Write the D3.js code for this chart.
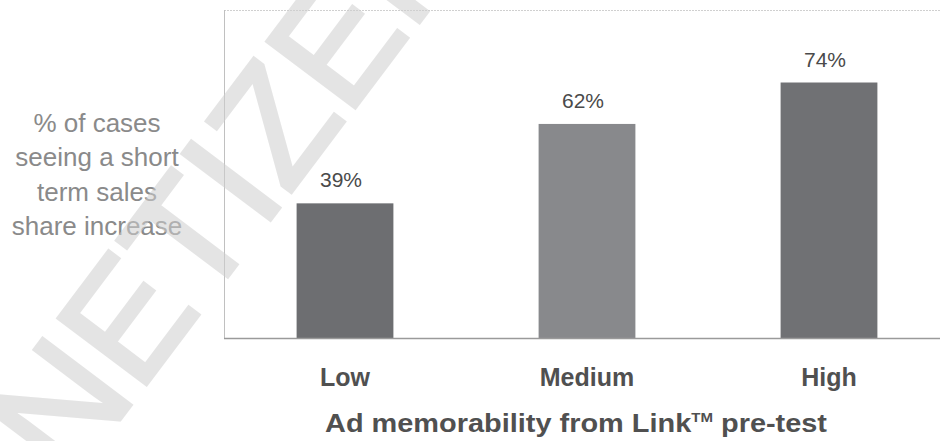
<!DOCTYPE html>
<html>
<head>
<meta charset="utf-8">
<script src="https://cdn.jsdelivr.net/npm/d3@7"></script>
<style>
  html, body { margin: 0; padding: 0; background: #fff; }
  svg { display: block; font-family: "Liberation Sans", Arial, sans-serif; }
</style>
</head>
<body>
<svg id="chart" width="940" height="441"></svg>
<script>
// Share of cases with a short-term sales share increase, by ad memorability
const categories = ["Low", "Medium", "High"];
const shareIncrease = [39, 62, 74];
const barColors = ["#6d6e71", "#88898c", "#707174"];
const valueLabels = ["39%", "62%", "74%"];
const yTitleLines = ["% of cases", "seeing a short", "term sales", "share increase"];
const xTitleParts = ["Ad memorability from Link", "TM", " pre-test"];

const svg = d3.select("#chart");
const frame = { left: 224, top: 10, bottom: 338, right: 950 };

const x = d3.scaleBand()
  .domain(categories)
  .range([frame.left, frame.right])
  .paddingInner(0.6)
  .paddingOuter(0.3);

const y = d3.scaleLinear()
  .domain([0, 95])
  .range([frame.bottom, frame.top]);

// plot frame
svg.append("line")
  .attr("x1", frame.left).attr("x2", 940)
  .attr("y1", frame.top + 0.5).attr("y2", frame.top + 0.5)
  .attr("stroke", "#d0d0d0").attr("stroke-width", 1)
  .attr("stroke-dasharray", "2,1");
svg.append("line")
  .attr("x1", frame.left + 0.5).attr("x2", frame.left + 0.5)
  .attr("y1", frame.top).attr("y2", frame.bottom)
  .attr("stroke", "#c0c0c0").attr("stroke-width", 1);

// bars
svg.append("g").selectAll("rect")
  .data(categories)
  .join("rect")
  .attr("x", d => x(d))
  .attr("width", x.bandwidth())
  .attr("y", (d, i) => y(shareIncrease[i]))
  .attr("height", (d, i) => y(0) - y(shareIncrease[i]))
  .attr("fill", (d, i) => barColors[i]);

// category axis
const xAxis = svg.append("g")
  .attr("transform", `translate(0,${frame.bottom})`)
  .call(d3.axisBottom(x).tickSize(0));
xAxis.select(".domain")
  .attr("d", `M${frame.left},0.5H940`)
  .attr("stroke", "#9a9a9a").attr("stroke-width", 1.5);
xAxis.selectAll(".tick text")
  .attr("dy", 0)
  .attr("y", 48)
  .attr("font-size", 25)
  .attr("font-weight", "bold")
  .attr("fill", "#505050")
  .style("font-family", "'Liberation Sans', Arial, sans-serif");

// value labels
svg.append("g").selectAll("text")
  .data(categories)
  .join("text")
  .attr("x", d => x(d) + x.bandwidth() / 2 - 4)
  .attr("y", (d, i) => y(shareIncrease[i]) - 16)
  .attr("text-anchor", "middle")
  .attr("font-size", 21)
  .attr("fill", "#4a4a4a")
  .text((d, i) => valueLabels[i]);

// category axis title
const xt = svg.append("text")
  .attr("x", 325).attr("y", 432)
  .attr("font-size", 25)
  .attr("font-weight", "bold")
  .attr("fill", "#505050")
  .attr("textLength", 502)
  .attr("lengthAdjust", "spacingAndGlyphs");
xt.append("tspan").text(xTitleParts[0]);
xt.append("tspan").attr("font-size", 13).attr("dy", -10).text(xTitleParts[1]);
xt.append("tspan").attr("dy", 10).text(xTitleParts[2]);

// value axis title
svg.append("text")
  .attr("text-anchor", "middle")
  .attr("font-size", 26)
  .attr("fill", "#8a8a8a")
  .selectAll("tspan")
  .data(yTitleLines)
  .join("tspan")
  .attr("x", 97)
  .attr("y", (d, i) => 132 + i * 34.3)
  .text(d => d);

// watermark
svg.append("g")
  .attr("opacity", 0.55)
  .append("text")
  .attr("transform", "translate(69,487) rotate(-53)")
  .attr("font-size", 160)
  .attr("fill", "#cfcfcf")
  .attr("stroke", "#cfcfcf")
  .attr("stroke-width", 4)
  .attr("stroke-linejoin", "miter")
  .style("font-family", "'Liberation Sans', Arial, sans-serif")
  .text("NETIZEN");
</script>
</body>
</html>
